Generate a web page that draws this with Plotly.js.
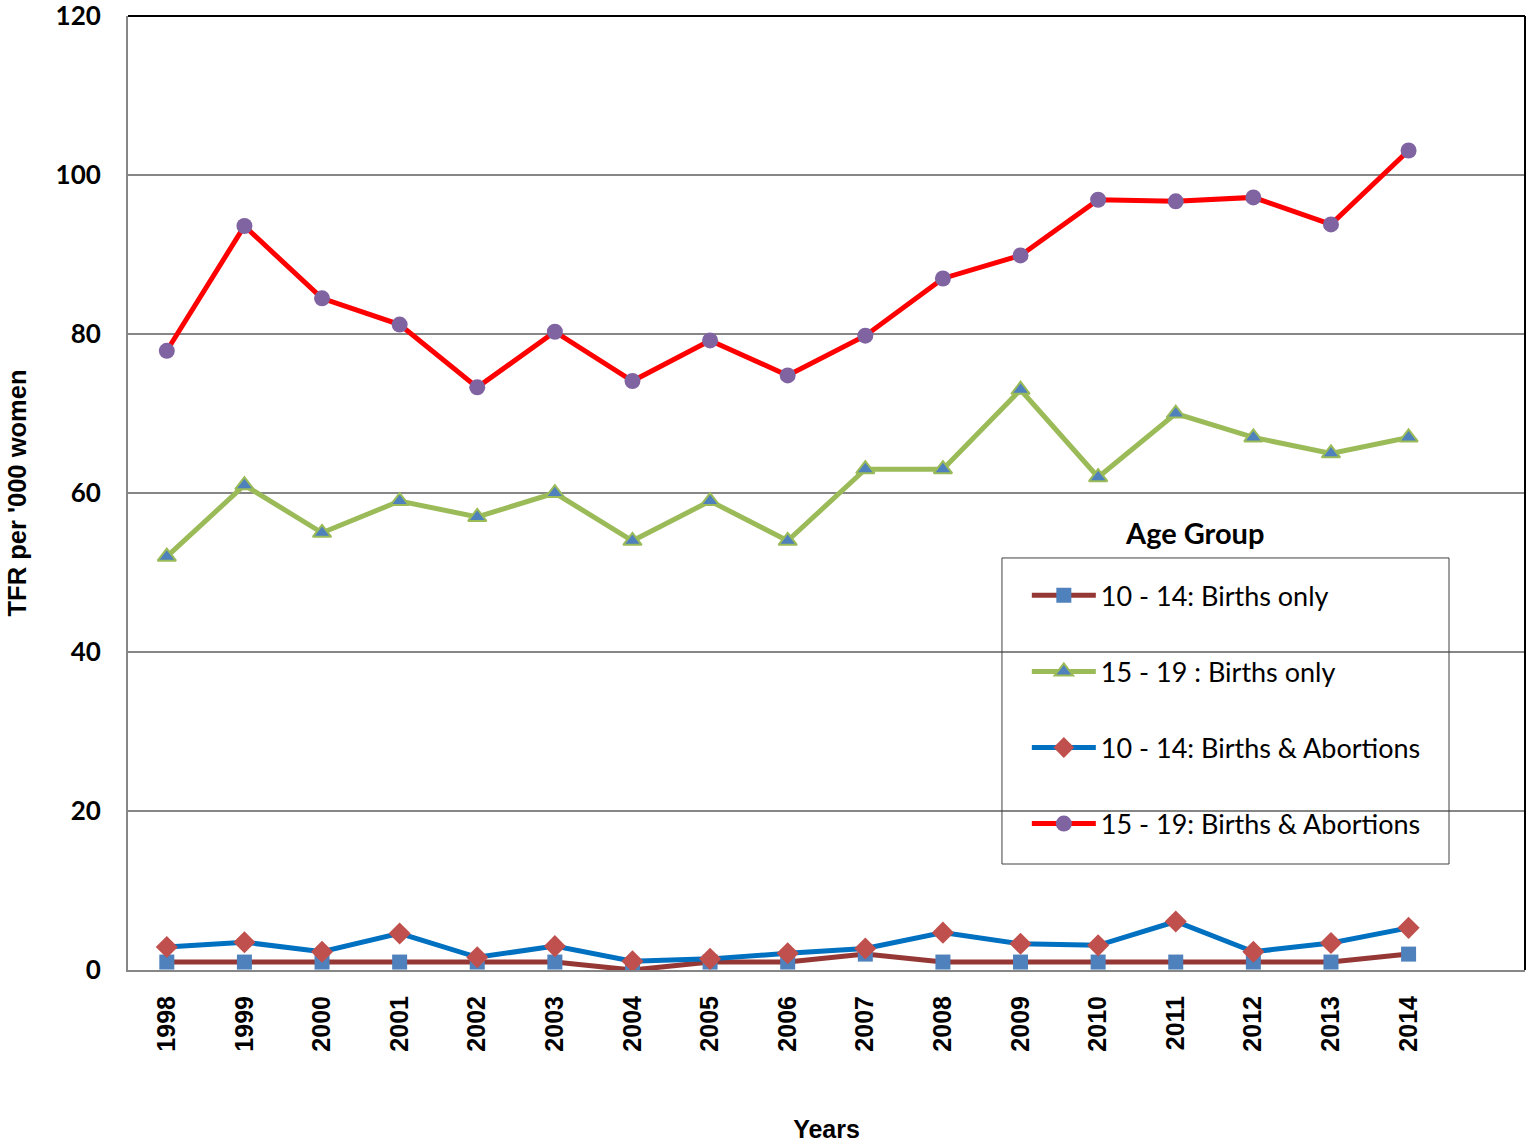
<!DOCTYPE html>
<html>
<head>
<meta charset="utf-8">
<script src="https://cdn.plot.ly/plotly-3.0.1.min.js"></script>
<style>html,body{margin:0;padding:0;background:#fff;}#chart{width:1528px;height:1148px;}</style>
</head>
<body>
<div id="chart"></div>
<script>
const years = [1998,1999,2000,2001,2002,2003,2004,2005,2006,2007,2008,2009,2010,2011,2012,2013,2014];
const births1014 = [1,1,1,1,1,1,0,1,1,2,1,1,1,1,1,1,2];
const births1519 = [52,61,55,59,57,60,54,59,54,63,63,73,62,70,67,65,67];
const ba1014 = [2.9,3.5,2.3,4.6,1.6,3.0,1.1,1.4,2.1,2.7,4.7,3.3,3.1,6.1,2.3,3.4,5.3];
const ba1519 = [77.9,93.6,84.5,81.2,73.3,80.3,74.1,79.2,74.8,79.8,87.0,89.9,96.9,96.7,97.2,93.8,103.1];
const seriesNames = ["10 - 14: Births only","15 - 19 : Births only","10 - 14: Births & Abortions","15 - 19: Births & Abortions"];
const yTicks = [0,20,40,60,80,100,120];

const traces = [
  {x: years, y: births1014, name: seriesNames[0], legendgroup:"a", mode:"lines+markers",
   line:{color:"#953735", width:5}, marker:{symbol:"square", size:15, color:"#4F81BD"}},
  {x: years, y: births1519, name: seriesNames[1], legendgroup:"b", mode:"lines+markers",
   line:{color:"#9BBB59", width:5}, marker:{symbol:"triangle-up", size:16, color:"#4F81BD", line:{color:"#9BBB59", width:2}}},
  {x: years, y: ba1014, name: seriesNames[2], legendgroup:"c", mode:"lines+markers",
   line:{color:"#0070C0", width:5}, marker:{symbol:"diamond", size:17, color:"#C0504D"}},
  {x: years, y: ba1519, name: seriesNames[3], legendgroup:"d", mode:"lines+markers",
   line:{color:"#FF0000", width:5}, marker:{symbol:"circle", size:16, color:"#8064A2"}}
];

const layout = {
  width:1528, height:1148,
  margin:{l:128, r:3, t:16, b:178},
  paper_bgcolor:"#fff", plot_bgcolor:"#fff",
  showlegend:true,
  xaxis:{
    range:[1997.5, 2015.5], tickvals: years, ticktext: years.map(String), tickangle:-90,
    showgrid:false, zeroline:false, showline:true, linecolor:"#868686", linewidth:2,
    ticks:"", ticklabelstandoff:14,
    tickfont:{family:"Liberation Sans, Arial, sans-serif", size:25, color:"#000", weight:"bold"},
    title:{text:"<b>Years</b>", font:{family:"Liberation Sans, Arial, sans-serif", size:25, color:"#000"}, standoff:70}
  },
  yaxis:{
    range:[0,120.02], tickvals: yTicks, showgrid:true, gridcolor:"#868686", gridwidth:2,
    zeroline:false, showline:true, linecolor:"#868686", linewidth:2, ticks:"", ticklabelstandoff:20,
    ticklabeloverflow:"allow",
    tickfont:{family:"Lato, sans-serif", size:26, color:"#000", weight:"bold"},
    title:{text:"<b>TFR per '000 women</b>", font:{family:"Liberation Sans, Arial, sans-serif", size:25.5, color:"#000"}, standoff:22}
  },
  legend:{
    x:0.6434, y:0.418, xanchor:"left", yanchor:"top", xref:"paper", yref:"paper",
    bgcolor:"rgba(0,0,0,0)", borderwidth:0, traceorder:"grouped", tracegroupgap:38,
    itemwidth:64,
    font:{family:"Lato, sans-serif", size:27, color:"#000"}
  },
  shapes:[
    {type:"line", xref:"paper", yref:"paper", x0:0, x1:1, y0:1, y1:1, line:{color:"#000", width:2}},
    {type:"line", xref:"paper", yref:"paper", x0:1, x1:1, y0:0, y1:1, line:{color:"#000", width:2}},
    {type:"rect", xref:"paper", yref:"paper", x0:0.6256, x1:0.9456, y0:0.1111, y1:0.4319, line:{color:"#404040", width:1}, fillcolor:"rgba(0,0,0,0)"}
  ],
  annotations:[
    {text:"<b>Age Group</b>", xref:"paper", yref:"paper", x:0.7631, y:0.4587, xanchor:"center", yanchor:"middle", showarrow:false,
     font:{family:"Lato, sans-serif", size:29, color:"#000"}}
  ]
};

Plotly.newPlot("chart", traces, layout, {displayModeBar:false, staticPlot:true});
</script>
</body>
</html>
